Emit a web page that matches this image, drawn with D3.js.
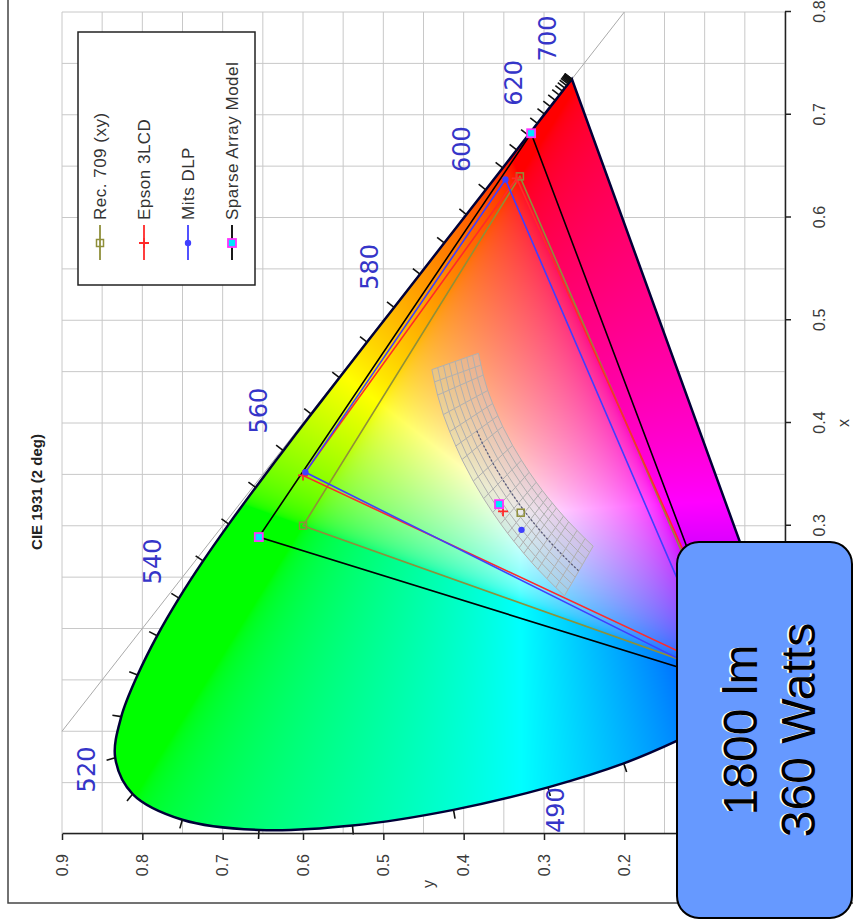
<!DOCTYPE html>
<html>
<head>
<meta charset="utf-8">
<script src="https://cdn.jsdelivr.net/npm/d3@7"></script>
<style>
  body { margin: 0; background: #fff; }
  svg { display: block; }
</style>
</head>
<body>
<div id="chart"></div>
<script>
// CIE 1931 2 deg spectral locus, 5 nm steps
const wavelengths = [380,385,390,395,400,405,410,415,420,425,430,435,440,445,450,455,460,465,470,475,480,485,490,495,500,505,510,515,520,525,530,535,540,545,550,555,560,565,570,575,580,585,590,595,600,605,610,615,620,625,630,635,640,645,650,655,660,665,670,675,680,685,690,695,700];
const locusX = [0.1741,0.1740,0.1738,0.1736,0.1733,0.1730,0.1726,0.1721,0.1714,0.1703,0.1689,0.1669,0.1644,0.1611,0.1566,0.1510,0.1440,0.1355,0.1241,0.1096,0.0913,0.0687,0.0454,0.0235,0.0082,0.0039,0.0139,0.0389,0.0743,0.1142,0.1547,0.1929,0.2296,0.2658,0.3016,0.3373,0.3731,0.4087,0.4441,0.4788,0.5125,0.5448,0.5752,0.6029,0.6270,0.6482,0.6658,0.6801,0.6915,0.7006,0.7079,0.7140,0.7190,0.7230,0.7260,0.7283,0.7300,0.7311,0.7320,0.7327,0.7334,0.7340,0.7344,0.7346,0.7347];
const locusY = [0.0050,0.0050,0.0049,0.0049,0.0048,0.0048,0.0048,0.0048,0.0051,0.0058,0.0069,0.0086,0.0109,0.0138,0.0177,0.0227,0.0297,0.0399,0.0578,0.0868,0.1327,0.2007,0.2950,0.4127,0.5384,0.6548,0.7502,0.8120,0.8338,0.8262,0.8059,0.7816,0.7543,0.7243,0.6923,0.6589,0.6245,0.5896,0.5547,0.5202,0.4866,0.4544,0.4242,0.3965,0.3725,0.3514,0.3340,0.3197,0.3083,0.2993,0.2920,0.2859,0.2809,0.2770,0.2740,0.2717,0.2700,0.2689,0.2680,0.2673,0.2666,0.2660,0.2656,0.2654,0.2653];
const labelWavelengths = [470, 480, 490, 520, 540, 560, 580, 600, 620, 700];

// gamut triangles: red, green, blue primaries + white point
const seriesNames = ['Rec. 709 (xy)', 'Epson 3LCD', 'Mits DLP', 'Sparse Array Model'];
const rec709 = [[0.640, 0.330], [0.300, 0.600], [0.150, 0.060]];
const rec709White = [0.3127, 0.329];
const epson = [[0.638, 0.334], [0.349, 0.600], [0.149, 0.054]];
const epsonWhite = [0.314, 0.351];
const mits = [[0.637, 0.348], [0.352, 0.597], [0.150, 0.080]];
const mitsWhite = [0.296, 0.328];
const sparse = [[0.682, 0.316], [0.289, 0.655], [0.144, 0.057]];
const sparseWhite = [0.321, 0.356];

// Planckian locus and isotemperature grid
const planckT = [2700,2850,3000,3250,3500,3750,4000,4500,5000,5500,6000,6500,7000,7500,8000,9000,10000,12000,15000,20000];
const planckX = [0.4599,0.4482,0.4369,0.4199,0.4053,0.3923,0.3805,0.3608,0.3451,0.3325,0.3221,0.3135,0.3064,0.3004,0.2952,0.2869,0.2807,0.2720,0.2637,0.2560];
const planckY = [0.4106,0.4074,0.4041,0.3977,0.3907,0.3836,0.3768,0.3636,0.3516,0.3411,0.3318,0.3237,0.3166,0.3103,0.3048,0.2956,0.2884,0.2776,0.2671,0.2567];
const duvSteps = [-0.03,-0.0225,-0.015,-0.0075,0,0.0075,0.015,0.0225,0.03];

const xTicks = [0, 0.1, 0.2, 0.3, 0.4, 0.5, 0.6, 0.7, 0.8];
const yTicks = [0, 0.1, 0.2, 0.3, 0.4, 0.5, 0.6, 0.7, 0.8, 0.9];
const boxLines = ['1800 lm', '360 Watts'];

const W = 822, H = 723;
const font = 'Liberation Sans, Arial, sans-serif';
const svg = d3.select('#chart').append('svg')
    .attr('width', 853)
    .attr('height', 922);

// outer frame
svg.append('rect')
    .attr('x', 8).attr('y', -10)
    .attr('width', 920).attr('height', 913)
    .attr('fill', 'none')
    .attr('stroke', '#444')
    .attr('stroke-width', 1.5);

// the whole chart is drawn turned a quarter turn counter-clockwise
const g = svg.append('g')
    .attr('transform', 'translate(62,834) rotate(-90)');

const x = d3.scaleLinear().domain([0, 0.8]).range([0, W]);
const y = d3.scaleLinear().domain([0, 0.9]).range([H, 0]);

// grid
g.append('g').selectAll('line')
    .data(x.ticks(16)).enter().append('line')
    .attr('x1', d => x(d)).attr('x2', d => x(d))
    .attr('y1', 0).attr('y2', H)
    .attr('stroke', '#c8c8c8').attr('stroke-width', 1);
g.append('g').selectAll('line')
    .data(y.ticks(18)).enter().append('line')
    .attr('y1', d => y(d)).attr('y2', d => y(d))
    .attr('x1', 0).attr('x2', W)
    .attr('stroke', '#c8c8c8').attr('stroke-width', 1);

// x + y = 1 line
g.append('line')
    .attr('x1', x(0.1)).attr('y1', y(0.9))
    .attr('x2', x(0.8)).attr('y2', y(0.2))
    .attr('stroke', '#aaa').attr('stroke-width', 1);

// colour fill of the horseshoe
function xyToRgb(cx, cy) {
    if (cy < 0.002) return [0, 0, 0];
    const X = cx / cy, Y = 1, Z = (1 - cx - cy) / cy;
    let r = 3.2406 * X - 1.5372 * Y - 0.4986 * Z;
    let gg = -0.9689 * X + 1.8758 * Y + 0.0415 * Z;
    let b = 0.0557 * X - 0.2040 * Y + 1.0570 * Z;
    r = Math.max(r, 0); gg = Math.max(gg, 0); b = Math.max(b, 0);
    const m = Math.max(r, gg, b) || 1;
    const gam = c => {
        c = c / m;
        return 255 * (c <= 0.0031308 ? 12.92 * c : 1.055 * Math.pow(c, 1 / 2.4) - 0.055);
    };
    return [gam(r), gam(gg), gam(b)];
}

const cv = document.createElement('canvas');
cv.width = W; cv.height = H;
const ctx = cv.getContext('2d');
const img = ctx.createImageData(W, H);
for (let j = 0; j < H; j++) {
    const cy = y.invert(j + 0.5);
    for (let i = 0; i < W; i++) {
        const cx = x.invert(i + 0.5);
        const c = xyToRgb(cx, cy);
        const k = (j * W + i) * 4;
        img.data[k] = c[0]; img.data[k + 1] = c[1]; img.data[k + 2] = c[2]; img.data[k + 3] = 255;
    }
}
ctx.putImageData(img, 0, 0);

const locusPts = wavelengths.map((w, i) => [x(locusX[i]), y(locusY[i])]);
const locusPath = d3.line().curve(d3.curveCatmullRom.alpha(0.5))(locusPts) + 'Z';

g.append('clipPath').attr('id', 'locusClip')
    .append('path').attr('d', locusPath);

g.append('image')
    .attr('href', cv.toDataURL('image/png'))
    .attr('x', 0).attr('y', 0)
    .attr('width', W).attr('height', H)
    .attr('preserveAspectRatio', 'none')
    .attr('clip-path', 'url(#locusClip)');

// isotemperature mesh
function planckNormal(i) {
    const a = Math.max(i - 1, 0), b = Math.min(i + 1, planckT.length - 1);
    const tx = planckX[b] - planckX[a], ty = planckY[b] - planckY[a];
    const L = Math.hypot(tx, ty);
    return [ty / L, -tx / L];
}
const mesh = planckT.map((t, i) => {
    const n = planckNormal(i);
    return duvSteps.map(d => [planckX[i] + n[0] * d, planckY[i] + n[1] * d]);
});
const lineXY = d3.line().x(d => x(d[0])).y(d => y(d[1]));
const meshG = g.append('g');
const outline = mesh.map(r => r[0]).concat(mesh.map(r => r[r.length - 1]).reverse());
meshG.append('path')
    .attr('d', lineXY(outline) + 'Z')
    .attr('fill', 'rgba(205,205,205,0.4)')
    .attr('stroke', 'none');
duvSteps.forEach((d, k) => {
    meshG.append('path')
        .attr('d', lineXY(mesh.map(r => r[k])))
        .attr('fill', 'none')
        .attr('stroke', '#b0b0b0').attr('stroke-width', 1);
});
mesh.forEach(r => {
    meshG.append('path')
        .attr('d', lineXY(r))
        .attr('fill', 'none')
        .attr('stroke', '#b0b0b0').attr('stroke-width', 1);
});
meshG.append('path')
    .attr('d', lineXY(planckT.map((t, i) => [planckX[i], planckY[i]]).slice(5)))
    .attr('fill', 'none')
    .attr('stroke', '#5a5a7a').attr('stroke-width', 1.3)
    .attr('stroke-dasharray', '2,2');

// gamut triangles
const series = [
    { name: seriesNames[0], pts: rec709, white: rec709White, color: '#8f8f3a', marker: 'square' },
    { name: seriesNames[1], pts: epson, white: epsonWhite, color: '#ff2a2a', marker: 'plus' },
    { name: seriesNames[2], pts: mits, white: mitsWhite, color: '#3f3fff', marker: 'dot' },
    { name: seriesNames[3], pts: sparse, white: sparseWhite, color: '#000', marker: 'box' }
];

function drawMarker(sel, type, color, px, py) {
    if (type === 'square') {
        sel.append('rect').attr('x', px - 3.5).attr('y', py - 3.5)
            .attr('width', 7).attr('height', 7)
            .attr('fill', 'none').attr('stroke', color).attr('stroke-width', 1.5);
    } else if (type === 'plus') {
        sel.append('path').attr('d', `M${px - 5},${py}H${px + 5}M${px},${py - 5}V${py + 5}`)
            .attr('stroke', color).attr('stroke-width', 1.8);
    } else if (type === 'dot') {
        sel.append('circle').attr('cx', px).attr('cy', py).attr('r', 3.2)
            .attr('fill', color);
    } else {
        sel.append('rect').attr('x', px - 4).attr('y', py - 4)
            .attr('width', 8).attr('height', 8)
            .attr('fill', '#00e5ff').attr('stroke', '#ff33ff').attr('stroke-width', 1.8);
    }
}

series.forEach(s => {
    g.append('path')
        .attr('d', lineXY(s.pts) + 'Z')
        .attr('fill', 'none')
        .attr('stroke', s.color)
        .attr('stroke-width', 1.6);
});

// locus outline
g.append('path')
    .attr('d', locusPath)
    .attr('fill', 'none')
    .attr('stroke', '#000038')
    .attr('stroke-width', 2.5);

// wavelength ticks and labels
function locusNormal(i) {
    const a = locusPts[Math.max(i - 2, 0)], b = locusPts[Math.min(i + 2, locusPts.length - 1)];
    const tu = b[0] - a[0], tv = b[1] - a[1];
    const L = Math.hypot(tu, tv) || 1;
    return [tv / L, -tu / L];
}
g.append('g').selectAll('line')
    .data(wavelengths).enter().append('line')
    .attr('x1', (w, i) => locusPts[i][0])
    .attr('y1', (w, i) => locusPts[i][1])
    .attr('x2', (w, i) => locusPts[i][0] + locusNormal(i)[0] * 9)
    .attr('y2', (w, i) => locusPts[i][1] + locusNormal(i)[1] * 9)
    .attr('stroke', '#111').attr('stroke-width', 1.6);

// labels sit outside the curve, pushed a bit further along x where the curve faces right/down
function labelPos(w) {
    const i = wavelengths.indexOf(w);
    const n = locusNormal(i);
    const shift = (n[0] > 0 || n[1] > 0) ? 16 : 0;
    return [locusPts[i][0] + n[0] * 40 + shift, locusPts[i][1] + n[1] * 30];
}
g.append('g').selectAll('text')
    .data(labelWavelengths).enter().append('text')
    .attr('x', w => labelPos(w)[0])
    .attr('y', w => labelPos(w)[1])
    .attr('text-anchor', 'middle')
    .attr('dominant-baseline', 'central')
    .attr('font-family', 'DejaVu Sans, sans-serif')
    .attr('font-size', 24)
    .attr('fill', '#3535c8')
    .text(w => w);

// vertex and white point markers
series.forEach(s => {
    s.pts.concat([s.white]).forEach(p => drawMarker(g, s.marker, s.color, x(p[0]), y(p[1])));
});

// axes
const yAxis = g.append('g')
    .call(d3.axisLeft(y).tickValues(yTicks).tickFormat(d3.format('.1f'))
        .tickSize(6).tickPadding(14).tickSizeOuter(0));
const xAxis = g.append('g')
    .attr('transform', `translate(0,${H})`)
    .call(d3.axisBottom(x).tickValues(xTicks).tickFormat(d3.format('.1f'))
        .tickSize(6).tickPadding(23).tickSizeOuter(0));
[xAxis, yAxis].forEach(a => {
    a.attr('font-family', font).attr('font-size', 16);
    a.selectAll('text').attr('fill', '#3a3a3a');
    a.select('.domain').attr('stroke', '#222').attr('stroke-width', 1.5);
    a.selectAll('.tick line').attr('stroke', '#222').attr('stroke-width', 1.5);
});

// axis titles
g.append('text')
    .attr('x', -50).attr('y', 366)
    .attr('text-anchor', 'middle').attr('dominant-baseline', 'central')
    .attr('font-family', font).attr('font-size', 16)
    .attr('fill', '#3a3a3a')
    .text('y');
g.append('text')
    .attr('x', W / 2).attr('y', H + 58)
    .attr('text-anchor', 'middle').attr('dominant-baseline', 'central')
    .attr('font-family', font).attr('font-size', 16)
    .attr('fill', '#3a3a3a')
    .text('x');

// title
g.append('text')
    .attr('x', 342).attr('y', -26)
    .attr('text-anchor', 'middle').attr('dominant-baseline', 'central')
    .attr('font-family', font)
    .attr('font-size', 15).attr('font-weight', 'bold')
    .attr('fill', '#222')
    .text('CIE 1931 (2 deg)');

// legend
const legend = g.append('g');
legend.append('rect')
    .attr('x', 549).attr('y', 16)
    .attr('width', 253).attr('height', 177)
    .attr('fill', '#fff').attr('stroke', '#222').attr('stroke-width', 1.5);
series.forEach((s, i) => {
    const ly = 38 + i * 44;
    legend.append('line')
        .attr('x1', 574).attr('x2', 609).attr('y1', ly).attr('y2', ly)
        .attr('stroke', s.color).attr('stroke-width', 1.8);
    drawMarker(legend, s.marker, s.color, 591, ly);
    legend.append('text')
        .attr('x', 614).attr('y', ly)
        .attr('dominant-baseline', 'central')
        .attr('font-family', font)
        .attr('font-size', 17)
        .attr('letter-spacing', 0.5)
        .attr('fill', '#333')
        .text(s.name);
});

// callout box
svg.append('rect')
    .attr('x', 677).attr('y', 542)
    .attr('width', 175).attr('height', 376)
    .attr('rx', 22).attr('ry', 22)
    .attr('fill', '#6699ff')
    .attr('stroke', '#000').attr('stroke-width', 2);
boxLines.forEach((t, i) => {
    const cx = 740 + i * 58, cy = 730;
    svg.append('text')
        .attr('x', cx - 1.5).attr('y', cy)
        .attr('transform', `rotate(-90,${cx - 1.5},${cy})`)
        .attr('text-anchor', 'middle').attr('dominant-baseline', 'central')
        .attr('font-family', font)
        .attr('font-size', 48)
        .attr('fill', '#fff')
        .text(t);
    svg.append('text')
        .attr('x', cx).attr('y', cy)
        .attr('transform', `rotate(-90,${cx},${cy})`)
        .attr('text-anchor', 'middle').attr('dominant-baseline', 'central')
        .attr('font-family', font)
        .attr('font-size', 48)
        .attr('fill', '#000')
        .text(t);
});
</script>
</body>
</html>
